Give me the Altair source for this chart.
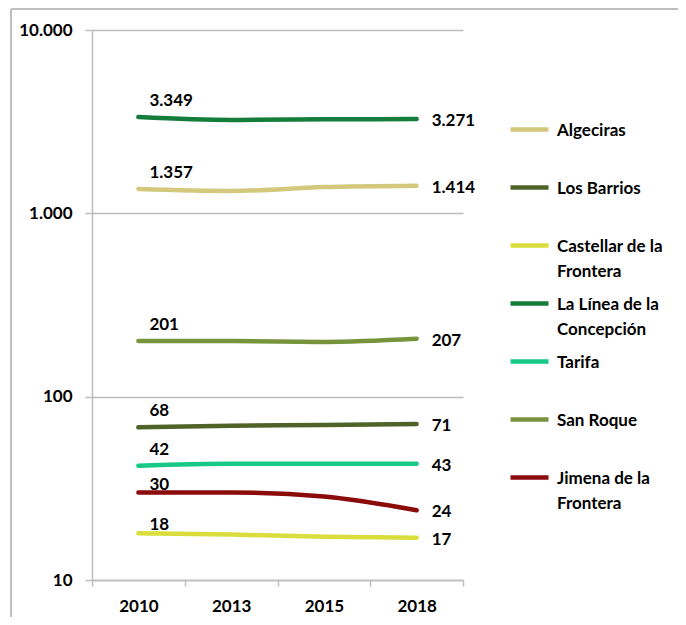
import altair as alt
import pandas as pd

# ---------------- data ----------------
years = ["2010", "2013", "2015", "2018"]
series = [
    "Algeciras",
    "Los Barrios",
    "Castellar de la Frontera",
    "La Línea de la Concepción",
    "Tarifa",
    "San Roque",
    "Jimena de la Frontera",
]
algeciras = [1357, 1325, 1390, 1414]
los_barrios = [68, 69.5, 70, 71]
castellar = [18, 17.7, 17.2, 17]
la_linea = [3349, 3230, 3255, 3271]
tarifa = [42, 43, 43, 43]
san_roque = [201, 201, 199, 207]
jimena = [30, 30, 28.5, 24]
values = [algeciras, los_barrios, castellar, la_linea, tarifa, san_roque, jimena]

colors = ["#D4C87C", "#4F6228", "#D9DE3C", "#147D3C", "#16C986", "#77933C", "#8B0A0A"]

legend_lines = {
    "Castellar de la Frontera": ["Castellar de la", "Frontera"],
    "La Línea de la Concepción": ["La Línea de la", "Concepción"],
    "Jimena de la Frontera": ["Jimena de la", "Frontera"],
}

# series whose first-year label sits closer to its line
tight_labels = ["Castellar de la Frontera", "Jimena de la Frontera"]

rows = []
for name, vals in zip(series, values):
    for y, v in zip(years, vals):
        rows.append({"series": name, "year": y, "value": v,
                     "label": f"{int(round(v)):,}".replace(",", "."),
                     "tight": name in tight_labels})
df = pd.DataFrame(rows)

# ---------------- style ----------------
FONT = "Lato"
FS = 17
GRID = "#BDBDBD"
W, H = 371, 550

label_expr = ""
for k, parts in legend_lines.items():
    arr = "[" + ", ".join(f"'{p}'" for p in parts) + "]"
    label_expr += f"datum.label == '{k}' ? {arr} : "
label_expr += "datum.label"

axis_common = dict(
    labelFont=FONT, labelFontSize=FS, labelFontWeight="bold", labelColor="black",
    domainColor=GRID, domainWidth=1.5, tickColor=GRID, tickWidth=1.5,
    gridColor=GRID, gridWidth=1.5, title=None,
)

x_enc = alt.X(
    "year:O",
    sort=years,
    bandPosition=0.5,
    scale=alt.Scale(type="band", paddingInner=0, paddingOuter=0),
    axis=alt.Axis(labelAngle=0, tickBand="extent", grid=False,
                  tickSize=6, labelPadding=12, **axis_common),
)
y_enc = alt.Y(
    "value:Q",
    scale=alt.Scale(type="log", domain=[10, 10000]),
    axis=alt.Axis(values=[10, 100, 1000, 10000], grid=True,
                  labelExpr="replace(format(datum.value, ','), ',', '.')",
                  tickSize=7, labelPadding=13, **axis_common),
)

lines = alt.Chart(df).mark_line(strokeWidth=4.5, interpolate="monotone", strokeCap="round").encode(
    x=x_enc,
    y=y_enc,
    color=alt.Color(
        "series:N",
        scale=alt.Scale(domain=series, range=colors),
        legend=alt.Legend(
            title=None, orient="none", legendX=416, legendY=77, padding=0,
            symbolType="M-1,-0.34H1", symbolSize=1444, symbolStrokeWidth=4.5,
            symbolOpacity=1,
            labelFont=FONT, labelFontSize=FS, labelFontWeight=700, labelColor="black",
            labelOffset=6, labelBaseline="alphabetic", labelLimit=300,
            clipHeight=58, rowPadding=0, labelExpr=label_expr,
        ),
    ),
    order="year:O",
)

text_style = dict(align="left", baseline="middle", font=FONT, fontSize=FS,
                  fontWeight=700, color="black")
x_txt = alt.X("year:O", sort=years, bandPosition=0.5)

start_labels = alt.Chart(df).transform_filter(
    (alt.datum.year == years[0]) & (~alt.datum.tight)
).mark_text(dx=11, dy=-16, **text_style).encode(x=x_txt, y="value:Q", text="label:N")

start_labels_tight = alt.Chart(df).transform_filter(
    (alt.datum.year == years[0]) & alt.datum.tight
).mark_text(dx=11, dy=-8, **text_style).encode(x=x_txt, y="value:Q", text="label:N")

end_labels = alt.Chart(df).transform_filter(alt.datum.year == years[-1]).mark_text(
    dx=15, dy=2, **text_style
).encode(x=x_txt, y="value:Q", text="label:N")

frame_df = pd.DataFrame({"k": [0]})
frame_top = alt.Chart(frame_df).mark_rule(color="#BFBFBF", strokeWidth=2).encode(
    x=alt.value(-81), x2=alt.value(W + 300), y=alt.value(-21)
)
frame_left = alt.Chart(frame_df).mark_rule(color="#BFBFBF", strokeWidth=2).encode(
    x=alt.value(-81), y=alt.value(-21), y2=alt.value(H + 100)
)

chart = alt.layer(
    lines, start_labels, start_labels_tight, end_labels, frame_top, frame_left
).properties(
    width=W, height=H,
    autosize=alt.AutoSizeParams(type="none"),
    padding={"left": 84, "top": 22, "right": 215, "bottom": 37},
).configure(
    style={"guide-label": {"lineHeight": 25}}
).configure_view(stroke="transparent")

chart.save("out.html", embed_options={"renderer": "svg", "actions": False})
